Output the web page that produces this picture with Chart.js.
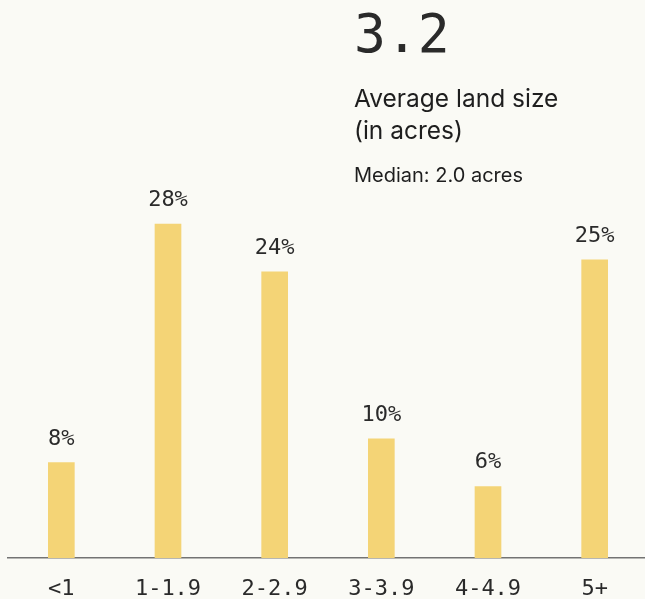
<!DOCTYPE html>
<html>
<head>
<meta charset="utf-8">
<script src="https://cdn.jsdelivr.net/npm/chart.js@4/dist/chart.umd.min.js"></script>
<style>
  html, body { margin: 0; padding: 0; background: #fafaf5; overflow: hidden; }
  #wrap { position: relative; width: 645px; height: 599px; overflow: hidden; }
  #landChart { position: absolute; left: 0; top: 0; }
  .headline { position: absolute; left: 354px; color: #1e1e1e; }
  #bigNum { top: 3px; font-family: "DejaVu Sans Mono", monospace; font-size: 53px; color: #2a2a2a; }
  #subTitle { top: 82px; font-family: Inter, "Liberation Sans", sans-serif; font-size: 24.5px; line-height: 32px; }
  #median { top: 163px; font-family: Inter, "Liberation Sans", sans-serif; font-size: 20px; }
</style>
</head>
<body>
<div id="wrap">
  <canvas id="landChart" width="648" height="599"></canvas>
  <div class="headline" id="bigNum">3.2</div>
  <div class="headline" id="subTitle">Average land size<br>(in acres)</div>
  <div class="headline" id="median">Median: 2.0 acres</div>
</div>
<script>
const sizeLabels = ['<1', '1-1.9', '2-2.9', '3-3.9', '4-4.9', '5+'];
const sharePct = [8, 28, 24, 10, 6, 25];

const monoFont = '"DejaVu Sans Mono", monospace';

// percent labels above each bar
const barValueLabels = {
  id: 'barValueLabels',
  afterDatasetsDraw(chart) {
    const { ctx } = chart;
    const meta = chart.getDatasetMeta(0);
    ctx.save();
    ctx.font = '22px ' + monoFont;
    ctx.fillStyle = '#2a2a2a';
    ctx.textAlign = 'center';
    ctx.textBaseline = 'alphabetic';
    meta.data.forEach((bar, i) => {
      ctx.fillText(sharePct[i] + '%', bar.x, bar.y - 18);
    });
    ctx.restore();
  }
};

const ctx = document.getElementById('landChart').getContext('2d');
const landChart = new Chart(ctx, {
  type: 'bar',
  data: {
    labels: sizeLabels,
    datasets: [{
      data: sharePct,
      backgroundColor: '#f4d476',
      barThickness: 26,
    }],
  },
  options: {
    responsive: false,
    animation: false,
    layout: { padding: { left: 8, top: 0, right: 0, bottom: 0 } },
    plugins: {
      legend: { display: false },
      tooltip: { enabled: false },
    },
    scales: {
      y: { display: false, min: 0, max: 46.8 },
      x: {
        // fixed axis height so the baseline sits low and labels run to the edge
        afterFit: (scale) => { scale.height = 41; },
        grid: { display: false, drawTicks: false },
        border: { display: true, color: '#737373', width: 1.5 },
        ticks: {
          color: '#2a2a2a',
          padding: 18,
          font: { family: monoFont, size: 22 },
          maxRotation: 0,
        },
      },
    },
  },
  plugins: [barValueLabels],
});
</script>
</body>
</html>
